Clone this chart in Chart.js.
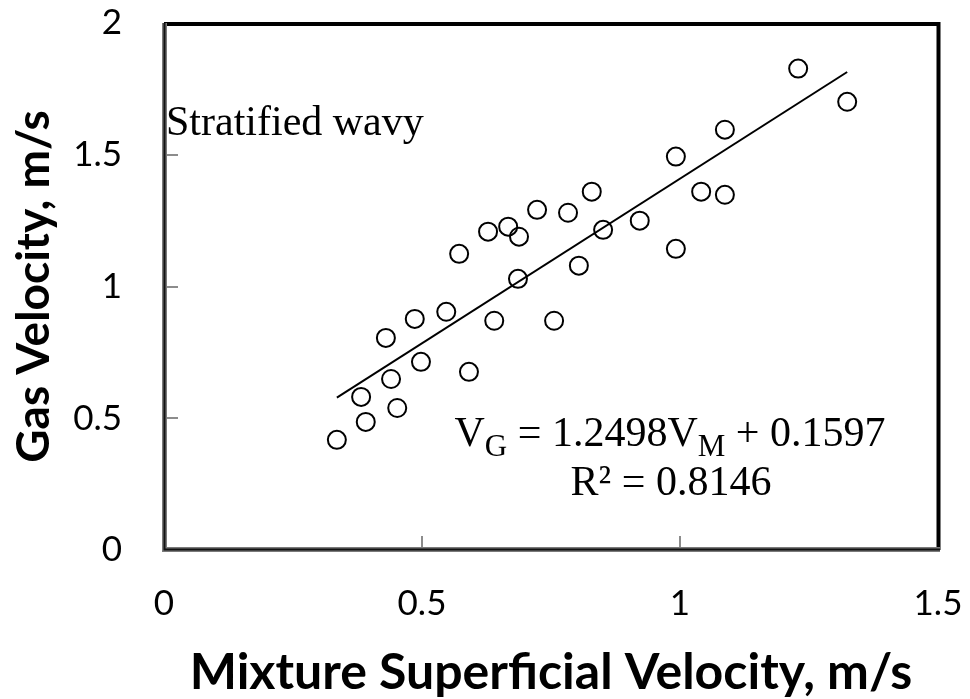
<!DOCTYPE html>
<html><head><meta charset="utf-8">
<script src="https://cdn.jsdelivr.net/npm/chart.js@4.4.1/dist/chart.umd.min.js"></script>
<style>html,body{margin:0;padding:0;background:#fff;}#wrap{width:970px;height:699px;}</style>
</head><body><div id="wrap"><canvas id="c" width="970" height="699"></canvas></div>
<script>
// ---- data ----
const mixtureVelocity = [0.335,0.382,0.391,0.430,0.440,0.452,0.486,0.498,0.547,0.572,0.591,0.628,0.640,0.667,0.688,0.686,0.723,0.756,0.783,0.804,0.829,0.851,0.922,0.992,0.992,1.041,1.087,1.087,1.229,1.324];
const gasVelocity     = [0.418,0.581,0.486,0.805,0.649,0.539,0.877,0.714,0.904,1.124,0.676,1.208,0.870,1.227,1.189,1.029,1.291,0.870,1.280,1.079,1.360,1.215,1.250,1.493,1.143,1.360,1.595,1.348,1.827,1.701];
const trendX = [0.335, 1.324];
const trendY = [0.578, 1.814];
const xTicks = [0, 0.5, 1, 1.5];
const xTickLabels = ['0', '0.5', '1', '1.5'];
const yTicks = [0, 0.5, 1, 1.5, 2];
const yTickLabels = ['0', '0.5', '1', '1.5', '2'];
const xTitle = 'Mixture Superficial Velocity, m/s';
const yTitle = 'Gas Velocity, m/s';
const regimeLabel = 'Stratified wavy';
const eqSlope = '1.2498';
const eqIntercept = '0.1597';
const rSquared = '0.8146';

const scatterPts = mixtureVelocity.map((x, i) => ({x: x, y: gasVelocity[i]}));
const trendPts = trendX.map((x, i) => ({x: x, y: trendY[i]}));

const decor = {
  id: 'decor',
  afterDraw(chart) {
    const ctx = chart.ctx;
    const a = chart.chartArea;
    const xs = chart.scales.x, ys = chart.scales.y;
    ctx.save();
    // inner tick marks
    ctx.strokeStyle = '#8c8c8c';
    ctx.lineWidth = 2;
    xs.ticks.forEach(t => {
      if (t.value <= xs.min || t.value >= xs.max) return;
      const p = Math.round(xs.getPixelForValue(t.value));
      ctx.beginPath(); ctx.moveTo(p, a.bottom - 2); ctx.lineTo(p, a.bottom - 14); ctx.stroke();
    });
    ys.ticks.forEach(t => {
      if (t.value <= ys.min || t.value >= ys.max) return;
      const p = Math.round(ys.getPixelForValue(t.value));
      ctx.beginPath(); ctx.moveTo(a.left + 2, p); ctx.lineTo(a.left + 14, p); ctx.stroke();
    });
    // frame: top & right thick black
    ctx.strokeStyle = '#000';
    ctx.lineWidth = 4;
    ctx.beginPath();
    ctx.moveTo(a.left, a.top + 1);
    ctx.lineTo(a.right + 0.5, a.top + 1);
    ctx.lineTo(a.right + 0.5, a.bottom);
    ctx.stroke();
    // left & bottom: gray with dark core
    ctx.strokeStyle = '#7a7a7a';
    ctx.lineWidth = 5;
    ctx.beginPath();
    ctx.moveTo(a.left + 0.5, a.top);
    ctx.lineTo(a.left + 0.5, a.bottom - 0.5);
    ctx.lineTo(a.right + 2, a.bottom - 0.5);
    ctx.stroke();
    ctx.strokeStyle = '#111';
    ctx.lineWidth = 2;
    ctx.stroke();

    // annotations
    ctx.fillStyle = '#000';
    ctx.textBaseline = 'alphabetic';
    ctx.textAlign = 'left';
    ctx.font = '42px "Liberation Serif", "Times New Roman", serif';
    ctx.fillText(regimeLabel, a.left + 2, a.top + 112);

    const mainFont = '42px "Liberation Serif", "Times New Roman", serif';
    const subFont = '31px "Liberation Serif", "Times New Roman", serif';
    const parts = [
      {t: 'V', sub: false}, {t: 'G', sub: true},
      {t: ' = ' + eqSlope + 'V', sub: false}, {t: 'M', sub: true},
      {t: ' + ' + eqIntercept, sub: false}
    ];
    let total = 0;
    parts.forEach(p => { ctx.font = p.sub ? subFont : mainFont; p.w = ctx.measureText(p.t).width; total += p.w; });
    const cx = a.left + 506;
    const base1 = a.top + 423;
    let x = cx - total / 2;
    parts.forEach(p => {
      ctx.font = p.sub ? subFont : mainFont;
      ctx.fillText(p.t, x, p.sub ? base1 + 10 : base1);
      x += p.w;
    });
    ctx.font = mainFont;
    ctx.textAlign = 'center';
    ctx.fillText('R\u00B2 = ' + rSquared, cx + 1, a.top + 472);
    ctx.restore();
  }
};

new Chart(document.getElementById('c'), {
  type: 'scatter',
  data: {
    datasets: [
      {
        label: 'data',
        data: scatterPts,
        pointStyle: 'circle',
        pointRadius: 9,
        pointHoverRadius: 9,
        borderWidth: 2,
        pointBorderWidth: 2,
        borderColor: '#000',
        pointBorderColor: '#000',
        backgroundColor: 'rgba(0,0,0,0)',
        pointBackgroundColor: 'rgba(0,0,0,0)'
      },
      {
        label: 'trend',
        type: 'line',
        data: trendPts,
        showLine: true,
        borderColor: '#000',
        borderWidth: 2,
        pointRadius: 0,
        fill: false
      }
    ]
  },
  options: {
    responsive: false,
    animation: false,
    devicePixelRatio: 1,
    layout: {padding: {left: 0, top: 23, right: 32, bottom: 0}},
    plugins: {legend: {display: false}, tooltip: {enabled: false}},
    scales: {
      x: {
        type: 'linear', min: 0, max: 1.5,
        afterBuildTicks: s => { s.ticks = xTicks.map(v => ({value: v})); },
        afterFit: s => { s.height = 149; s.paddingLeft = 0; s.paddingRight = 0; },
        grid: {display: false, drawTicks: false},
        border: {display: false},
        ticks: {color: '#000', padding: 33, font: {family: 'Lato', size: 35}, maxRotation: 0,
                callback: v => xTickLabels[xTicks.indexOf(v)]},
        title: {display: true, text: xTitle, color: '#000', font: {family: 'Lato', weight: 'bold', size: 50, lineHeight: 1}, padding: {top: 0, bottom: 1}}
      },
      y: {
        type: 'linear', min: 0, max: 2,
        afterBuildTicks: s => { s.ticks = yTicks.map(v => ({value: v})); },
        afterFit: s => { s.width = 164; s.paddingTop = 0; s.paddingBottom = 0; },
        grid: {display: false, drawTicks: false},
        border: {display: false},
        ticks: {color: '#000', padding: 42, font: {family: 'Lato', size: 35},
                callback: v => yTickLabels[yTicks.indexOf(v)]},
        title: {display: true, text: yTitle, color: '#000', font: {family: 'Lato', weight: 'bold', size: 46, lineHeight: 1}, padding: {top: 11, bottom: 0}}
      }
    }
  },
  plugins: [decor]
});
</script>
</body></html>
